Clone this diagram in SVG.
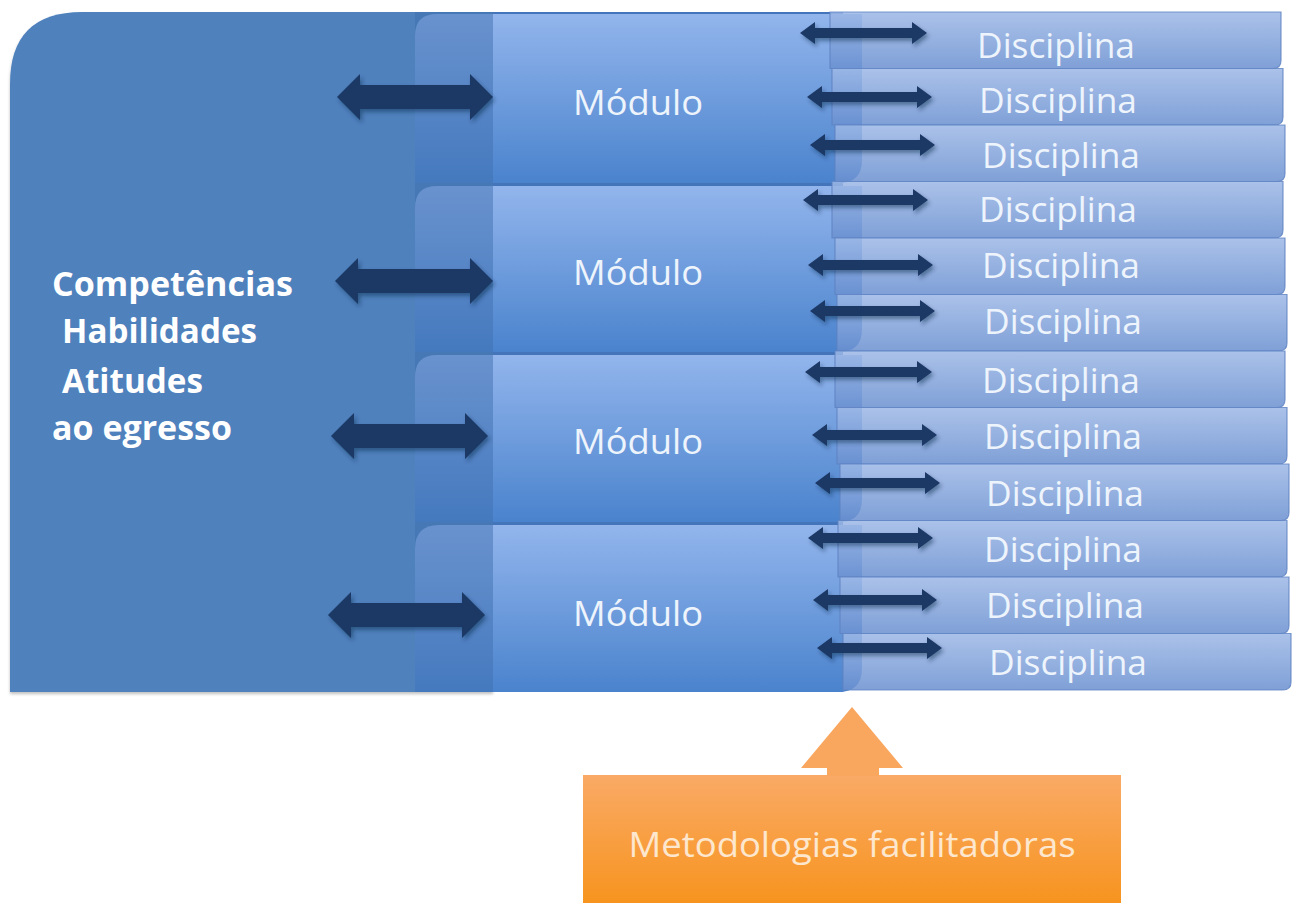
<svg xmlns="http://www.w3.org/2000/svg" width="1296" height="905" viewBox="0 0 1296 905">
<style>
.lbl{font-family:"Open Sans","Liberation Sans",sans-serif;font-size:35px;fill:#EEF4FC}
.bold{font-family:"Open Sans","Liberation Sans",sans-serif;font-size:34px;font-weight:bold;fill:#FFFFFF}
.mod{fill:url(#gMod)}
.disc{fill:url(#gDisc);fill-opacity:0.86;stroke:#5E82C2;stroke-width:1.2;stroke-opacity:0.8}
.big{fill:#4F81BD}
.arr{fill:#1B3765;filter:url(#sh)}
.orng{fill:url(#gOr)}
</style>
<defs>
<linearGradient id="gMod" x1="0" y1="0" x2="0" y2="1">
<stop offset="0" stop-color="#92B5EC"/>
<stop offset="1" stop-color="#4A83CD"/>
</linearGradient>
<linearGradient id="gDisc" x1="0" y1="0" x2="0" y2="1">
<stop offset="0" stop-color="#9DB8E6"/>
<stop offset="1" stop-color="#6A90D0"/>
</linearGradient>
<linearGradient id="gOr" x1="0" y1="0" x2="0" y2="1">
<stop offset="0" stop-color="#FAAA66"/>
<stop offset="1" stop-color="#F7941F"/>
</linearGradient>
<filter id="sh" x="-20%" y="-40%" width="140%" height="200%">
<feDropShadow dx="2" dy="3" stdDeviation="2" flood-color="#0E2340" flood-opacity="0.45"/>
</filter>
<filter id="bsh" x="-5%" y="-5%" width="110%" height="115%">
<feDropShadow dx="0" dy="2" stdDeviation="1.5" flood-color="#000000" flood-opacity="0.25"/>
</filter>
</defs>

<g id="competencias">
<path class="big" filter="url(#bsh)" d="M10,692 L10,84 Q10,12 82,12 L493,12 L493,692 Z"/>
<rect x="493" y="12" width="350" height="680" fill="#4475BA"/>
</g>

<g id="modulo-1">
<path class="mod" d="M415,36 Q415,14 437,14 L862,14 L862,160 Q862,183 839,183 L415,183 Z"/>
<text class="lbl" x="573" y="115" textLength="130" lengthAdjust="spacingAndGlyphs">Módulo</text>
</g>
<g id="modulo-2">
<path class="mod" d="M415,208 Q415,186 437,186 L862,186 L862,329 Q862,352 839,352 L415,352 Z"/>
<text class="lbl" x="573" y="285" textLength="130" lengthAdjust="spacingAndGlyphs">Módulo</text>
</g>
<g id="modulo-3">
<path class="mod" d="M415,377 Q415,355 437,355 L862,355 L862,499 Q862,522 839,522 L415,522 Z"/>
<text class="lbl" x="573" y="454" textLength="130" lengthAdjust="spacingAndGlyphs">Módulo</text>
</g>
<g id="modulo-4">
<path class="mod" d="M415,549 Q415,525 439,525 L862,525 L862,668 Q862,692 838,692 L415,692 Z"/>
<text class="lbl" x="573" y="626" textLength="130" lengthAdjust="spacingAndGlyphs">Módulo</text>
</g>

<g id="competencias-texto">
<rect x="415" y="12" width="78" height="680" fill="#3F70B0" fill-opacity="0.5"/>
<text class="bold" x="52" y="296" textLength="241" lengthAdjust="spacingAndGlyphs">Competências</text>
<text class="bold" x="62" y="343" textLength="195" lengthAdjust="spacingAndGlyphs">Habilidades</text>
<text class="bold" x="62" y="393" textLength="141" lengthAdjust="spacingAndGlyphs">Atitudes</text>
<text class="bold" x="52" y="440" textLength="180" lengthAdjust="spacingAndGlyphs">ao egresso</text>
</g>

<g id="disc-1"><path class="disc" d="M830,12 L1281,12 L1281,60.5 Q1281,68.5 1273,68.5 L830,68.5 Z"/><text class="lbl" x="977" y="58" textLength="158" lengthAdjust="spacingAndGlyphs">Disciplina</text></g>
<g id="disc-2"><path class="disc" d="M832,68.5 L1283,68.5 L1283,117 Q1283,125 1275,125 L832,125 Z"/><text class="lbl" x="979" y="113" textLength="158" lengthAdjust="spacingAndGlyphs">Disciplina</text></g>
<g id="disc-3"><path class="disc" d="M835,125 L1285,125 L1285,173.5 Q1285,181.5 1277,181.5 L835,181.5 Z"/><text class="lbl" x="982" y="168" textLength="158" lengthAdjust="spacingAndGlyphs">Disciplina</text></g>
<g id="disc-4"><path class="disc" d="M832,181.5 L1283,181.5 L1283,230 Q1283,238 1275,238 L832,238 Z"/><text class="lbl" x="979" y="222" textLength="158" lengthAdjust="spacingAndGlyphs">Disciplina</text></g>
<g id="disc-5"><path class="disc" d="M835,238 L1285,238 L1285,286.5 Q1285,294.5 1277,294.5 L835,294.5 Z"/><text class="lbl" x="982" y="278" textLength="158" lengthAdjust="spacingAndGlyphs">Disciplina</text></g>
<g id="disc-6"><path class="disc" d="M837,294.5 L1287,294.5 L1287,343 Q1287,351 1279,351 L837,351 Z"/><text class="lbl" x="984" y="334" textLength="158" lengthAdjust="spacingAndGlyphs">Disciplina</text></g>
<g id="disc-7"><path class="disc" d="M835,351 L1285,351 L1285,399.5 Q1285,407.5 1277,407.5 L835,407.5 Z"/><text class="lbl" x="982" y="393" textLength="158" lengthAdjust="spacingAndGlyphs">Disciplina</text></g>
<g id="disc-8"><path class="disc" d="M837,407.5 L1287,407.5 L1287,456 Q1287,464 1279,464 L837,464 Z"/><text class="lbl" x="984" y="449" textLength="158" lengthAdjust="spacingAndGlyphs">Disciplina</text></g>
<g id="disc-9"><path class="disc" d="M840,464 L1289,464 L1289,512.5 Q1289,520.5 1281,520.5 L840,520.5 Z"/><text class="lbl" x="986" y="506" textLength="158" lengthAdjust="spacingAndGlyphs">Disciplina</text></g>
<g id="disc-10"><path class="disc" d="M838,520.5 L1287,520.5 L1287,569 Q1287,577 1279,577 L838,577 Z"/><text class="lbl" x="984" y="562" textLength="158" lengthAdjust="spacingAndGlyphs">Disciplina</text></g>
<g id="disc-11"><path class="disc" d="M840,577 L1289,577 L1289,625.5 Q1289,633.5 1281,633.5 L840,633.5 Z"/><text class="lbl" x="986" y="618" textLength="158" lengthAdjust="spacingAndGlyphs">Disciplina</text></g>
<g id="disc-12"><path class="disc" d="M843,633.5 L1291,633.5 L1291,682 Q1291,690 1283,690 L843,690 Z"/><text class="lbl" x="989" y="675" textLength="158" lengthAdjust="spacingAndGlyphs">Disciplina</text></g>

<g id="metodologias">
<rect x="583" y="775" width="538" height="128" class="orng"/>
<text x="852" y="857" text-anchor="middle" font-family="'Open Sans','Liberation Sans',sans-serif" font-size="35" fill="#FDE7CE" textLength="447" lengthAdjust="spacingAndGlyphs">Metodologias facilitadoras</text>
</g>

<g id="connectors">
<path fill="#F9A65F" d="M852,707 L903,768 L879,768 L879,776 L827,776 L827,768 L801,768 Z"/>
<path class="arr" d="M337,97 L360,74 L360,85 L470,85 L470,74 L493,97 L470,120 L470,109 L360,109 L360,120 Z"/>
<path class="arr" d="M335,281 L358,258 L358,269 L470,269 L470,258 L493,281 L470,304 L470,293 L358,293 L358,304 Z"/>
<path class="arr" d="M331,436 L354,413 L354,424 L465,424 L465,413 L488,436 L465,459 L465,448 L354,448 L354,459 Z"/>
<path class="arr" d="M328,615 L351,592 L351,603 L462,603 L462,592 L485,615 L462,638 L462,627 L351,627 L351,638 Z"/>
<path class="arr" d="M800,33 L815,22 L815,28 L912,28 L912,22 L927,33 L912,44 L912,38 L815,38 L815,44 Z"/>
<path class="arr" d="M807,97 L822,86 L822,92 L917,92 L917,86 L932,97 L917,108 L917,102 L822,102 L822,108 Z"/>
<path class="arr" d="M810,145 L825,134 L825,140 L920,140 L920,134 L935,145 L920,156 L920,150 L825,150 L825,156 Z"/>
<path class="arr" d="M803,200 L818,189 L818,195 L913,195 L913,189 L928,200 L913,211 L913,205 L818,205 L818,211 Z"/>
<path class="arr" d="M808,265 L823,254 L823,260 L918,260 L918,254 L933,265 L918,276 L918,270 L823,270 L823,276 Z"/>
<path class="arr" d="M810,311 L825,300 L825,306 L920,306 L920,300 L935,311 L920,322 L920,316 L825,316 L825,322 Z"/>
<path class="arr" d="M805,372 L820,361 L820,367 L917,367 L917,361 L932,372 L917,383 L917,377 L820,377 L820,383 Z"/>
<path class="arr" d="M812,435 L827,424 L827,430 L922,430 L922,424 L937,435 L922,446 L922,440 L827,440 L827,446 Z"/>
<path class="arr" d="M815,483 L830,472 L830,478 L925,478 L925,472 L940,483 L925,494 L925,488 L830,488 L830,494 Z"/>
<path class="arr" d="M808,538 L823,527 L823,533 L918,533 L918,527 L933,538 L918,549 L918,543 L823,543 L823,549 Z"/>
<path class="arr" d="M813,600 L828,589 L828,595 L922,595 L922,589 L937,600 L922,611 L922,605 L828,605 L828,611 Z"/>
<path class="arr" d="M817,648 L832,637 L832,643 L927,643 L927,637 L942,648 L927,659 L927,653 L832,653 L832,659 Z"/>
</g>
</svg>
